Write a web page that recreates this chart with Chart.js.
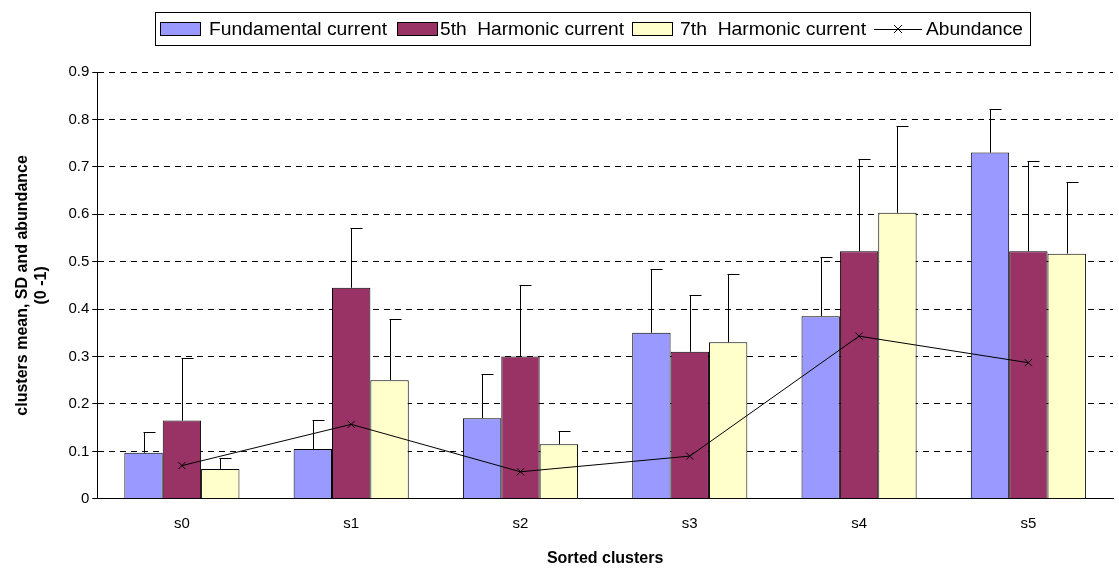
<!DOCTYPE html>
<html><head><meta charset="utf-8">
<script src="https://cdn.jsdelivr.net/npm/chart.js@4"></script>
<style>body{margin:0;background:#fff}#wrap{width:1119px;height:570px}</style>
</head><body><div id="wrap"><canvas id="c"></canvas></div>
<script>
const categories = ["s0", "s1", "s2", "s3", "s4", "s5"];
const fundamental = [0.097, 0.105, 0.170, 0.350, 0.385, 0.730];
const fundamentalTop = [0.140, 0.167, 0.263, 0.485, 0.510, 0.823];
const fifth = [0.165, 0.445, 0.300, 0.310, 0.522, 0.522];
const fifthTop = [0.297, 0.570, 0.450, 0.430, 0.716, 0.713];
const seventh = [0.063, 0.250, 0.115, 0.330, 0.603, 0.517];
const seventhTop = [0.085, 0.380, 0.143, 0.473, 0.787, 0.667];
const abundance = [0.070, 0.157, 0.057, 0.090, 0.343, 0.287];
const errTops = [fundamentalTop, fifthTop, seventhTop];
const FONT = "Arial, 'Liberation Sans'";

const errorBars = {
  id: "errorBars",
  afterDatasetsDraw(chart) {
    const ctx = chart.ctx, y = chart.scales.y;
    ctx.save();
    ctx.strokeStyle = "#000";
    ctx.lineWidth = 1;
    errTops.forEach((tops, di) => {
      chart.getDatasetMeta(di).data.forEach((bar, i) => {
        const x = Math.round(bar.x) + 0.5, yt = Math.round(y.getPixelForValue(tops[i])) + 0.5;
        ctx.beginPath();
        ctx.moveTo(x, bar.y);
        ctx.lineTo(x, yt);
        ctx.moveTo(x - 1, yt);
        ctx.lineTo(x + 11, yt);
        ctx.stroke();
      });
    });
    ctx.restore();
  }
};

// legend drawn by hand to get the framed Excel look (condensed text)
const legendSym = [160, 397, 632, 874];
const legendText = [[209, 178], [440, 184], [680, 186], [926, 97]];
const legendBox = {
  id: "legendBox",
  afterDraw(chart) {
    const ctx = chart.ctx;
    ctx.save();
    ctx.strokeStyle = "#000";
    ctx.lineWidth = 1;
    ctx.strokeRect(155.5, 12.5, 875, 33);
    ctx.font = "18px " + FONT;
    ctx.textBaseline = "middle";
    const cy = 29;
    chart.data.datasets.forEach((ds, i) => {
      const x = legendSym[i];
      if (ds.type === "bar") {
        ctx.fillStyle = ds.backgroundColor;
        ctx.fillRect(x + 0.5, cy - 6.5, 40, 13);
        ctx.strokeRect(x + 0.5, cy - 6.5, 40, 13);
      } else {
        ctx.beginPath();
        ctx.moveTo(x, cy + 0.5); ctx.lineTo(x + 48, cy + 0.5);
        ctx.moveTo(x + 20, cy - 4); ctx.lineTo(x + 28, cy + 4);
        ctx.moveTo(x + 28, cy - 4); ctx.lineTo(x + 20, cy + 4);
        ctx.stroke();
      }
      const [tx, tw] = legendText[i];
      ctx.save();
      ctx.translate(tx, cy + 1);
      ctx.scale(tw / ctx.measureText(ds.label).width, 1);
      ctx.fillStyle = "#000";
      ctx.fillText(ds.label, 0, 0);
      ctx.restore();
    });
    ctx.restore();
  }
};

new Chart(document.getElementById("c"), {
  data: {
    labels: categories,
    datasets: [
      { type: "bar", label: "Fundamental current", data: fundamental, backgroundColor: "#9999FF", borderColor: "#000", borderWidth: 1, order: 1 },
      { type: "bar", label: "5th  Harmonic current", data: fifth, backgroundColor: "#993366", borderColor: "#000", borderWidth: 1, order: 1 },
      { type: "bar", label: "7th  Harmonic current", data: seventh, backgroundColor: "#FFFFCC", borderColor: "#000", borderWidth: 1, order: 1 },
      { type: "line", label: "Abundance", data: abundance, borderColor: "#000", backgroundColor: "#000",
        borderWidth: 1, pointStyle: "crossRot", pointRadius: 5, pointBorderWidth: 1, order: 0 }
    ]
  },
  options: {
    responsive: true, maintainAspectRatio: false, animation: false,
    layout: { padding: { top: 72, right: 2, left: 13, bottom: 2 } },
    datasets: { bar: { categoryPercentage: 0.68, barPercentage: 1 } },
    plugins: { legend: { display: false }, tooltip: { enabled: false } },
    scales: {
      x: {
        grid: { display: false },
        border: { color: "#000" },
        ticks: { color: "#000", font: { family: FONT, size: 15 }, padding: 8 },
        title: { display: true, text: "Sorted clusters", color: "#000", padding: { top: 8, bottom: 0 },
          font: { family: FONT, size: 16, weight: "bold" } }
      },
      y: {
        min: 0, max: 0.9,
        ticks: { stepSize: 0.1, color: "#000", font: { family: FONT, size: 15 },
          callback: v => v === 0 ? "0" : v.toFixed(1) },
        grid: { color: "#000", tickColor: "#000", tickLength: 5, drawTicks: true },
        border: { color: "#000", dash: [6, 5] },
        title: { display: true, text: ["clusters mean, SD and abundance", "(0 -1)"], color: "#000",
          font: { family: FONT, size: 16, weight: "bold" }, padding: { top: 0, bottom: 14 } }
      }
    }
  },
  plugins: [errorBars, legendBox]
});
</script></body></html>
